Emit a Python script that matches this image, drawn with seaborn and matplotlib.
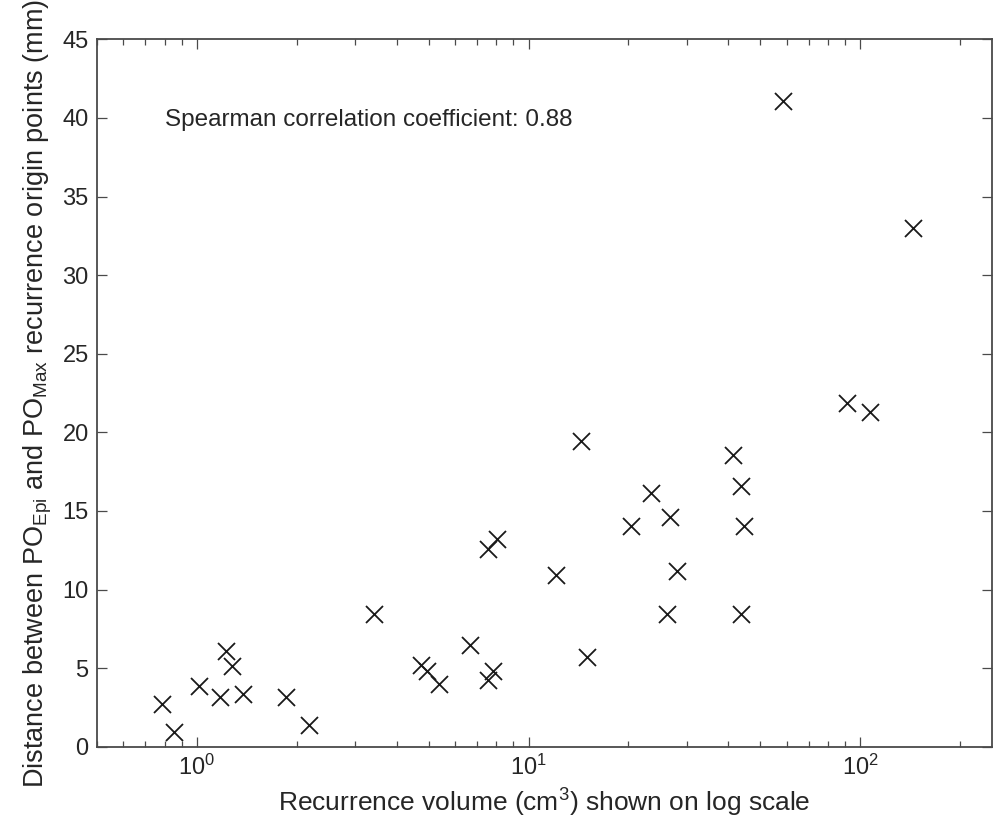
"""
Recurrence volume vs distance between PO_Epi and PO_Max
"""
import numpy as np
import pandas as pd
import matplotlib
matplotlib.use('Agg')
import matplotlib.pyplot as plt
import matplotlib.ticker as mticker
import seaborn as sns

# values (volume in cm^3, distance in mm)
volume = [0.784, 0.856, 1.018, 1.225, 1.280, 1.175, 1.376, 1.858, 2.175, 3.427,
          8.01, 7.55, 12.08, 20.29, 6.66, 4.73, 4.93, 5.38, 7.79, 7.55,
          15.02, 14.38, 41.33, 23.36, 43.8, 26.65, 44.5, 28.1, 26.16, 43.8,
          58.5, 144.0, 91.1, 106.7]
distance = [2.70, 0.95, 3.86, 6.09, 5.15, 3.18, 3.33, 3.18, 1.38, 8.44,
            13.19, 12.56, 10.92, 14.06, 6.47, 5.20, 4.83, 3.99, 4.82, 4.24,
            5.69, 19.47, 18.56, 16.16, 16.58, 14.59, 14.04, 11.18, 8.42, 8.42,
            41.09, 32.98, 21.84, 21.31]
y_ticks = list(range(0, 50, 5))
spearman_text = 'Spearman correlation coefficient: 0.88'

df = pd.DataFrame({'volume': volume, 'distance': distance})

sns.set_style('ticks')
plt.rcParams.update({
    'font.family': ['Liberation Sans', 'DejaVu Sans'],
    'mathtext.fontset': 'custom',
    'mathtext.rm': 'Liberation Sans',
    'mathtext.it': 'Liberation Sans:italic',
    'mathtext.bf': 'Liberation Sans:bold',
    'axes.edgecolor': '#4a4a4a',
    'text.color': '#262626',
    'axes.labelcolor': '#262626',
    'xtick.color': '#4a4a4a',
    'ytick.color': '#4a4a4a',
    'xtick.labelcolor': '#262626',
    'ytick.labelcolor': '#262626',
})

fig = plt.figure(figsize=(9.97, 8.23), dpi=100)
ax = fig.add_axes([0.0973, 0.0927, 0.8980, 0.8595])

sns.scatterplot(data=df, x='volume', y='distance', marker='x', color='#1a1a1a',
                s=150, linewidth=1.3, ax=ax, legend=False)

ax.set_xscale('log')
ax.set_xlim(0.5, 250)
ax.set_ylim(0, 45)
ax.set_yticks(y_ticks)
ax.xaxis.set_minor_locator(mticker.LogLocator(base=10, subs=np.arange(2, 10)))
ax.xaxis.set_minor_formatter(mticker.NullFormatter())

for s in ax.spines.values():
    s.set_visible(True)
    s.set_linewidth(1.3)

ax.tick_params(which='both', direction='in', top=True, right=True, width=0.9)
ax.tick_params(which='major', length=7, labelsize=17, pad=6)
ax.tick_params(which='minor', length=4)

ax.set_xlabel(r'Recurrence volume (cm$^{3}$) shown on log scale', fontsize=19, labelpad=5)
ax.set_ylabel(r'Distance between PO$_{\mathrm{Epi}}$ and PO$_{\mathrm{Max}}$ recurrence origin points (mm)',
              fontsize=19.5, labelpad=6)

ax.text(0.8, 39.5, spearman_text, fontsize=17.5, va='baseline', ha='left')

fig.savefig('out.png', dpi=100, facecolor='white')
